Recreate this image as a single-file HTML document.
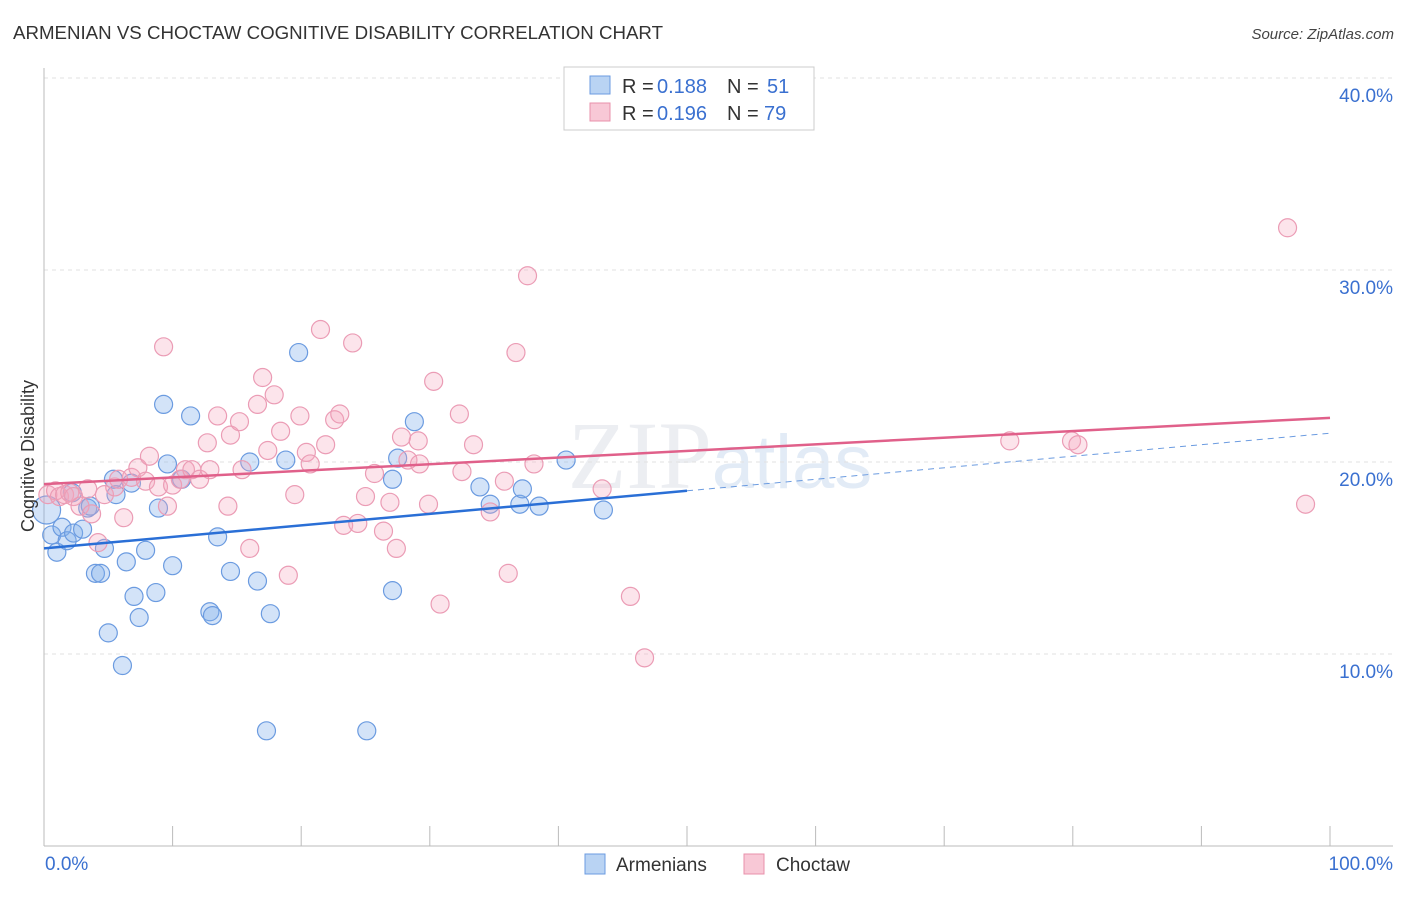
<!DOCTYPE html>
<html><head><meta charset="utf-8"><style>
body{margin:0;background:#fff;font-family:"Liberation Sans",sans-serif;}
</style></head><body>
<svg id="chart" width="1406" height="892" xmlns="http://www.w3.org/2000/svg" font-family="Liberation Sans, sans-serif">
<text x="13" y="39" font-size="18.7" fill="#333">ARMENIAN VS CHOCTAW COGNITIVE DISABILITY CORRELATION CHART</text>
<text x="1394" y="39" font-size="15" fill="#444" text-anchor="end" font-style="italic">Source: ZipAtlas.com</text>
<text x="720" y="488" font-size="96" fill="#eceef2" text-anchor="middle" font-family="Liberation Serif, serif">ZIP<tspan fill="#e2ebf6" font-family="Liberation Sans, sans-serif" font-size="76">atlas</tspan></text>
<g id="grid"></g><g id="axes"></g><g id="marks"></g>
<text transform="translate(34,456) rotate(-90)" font-size="18" fill="#333" text-anchor="middle">Cognitive Disability</text>
<g>
<rect x="564" y="67" width="250" height="63" fill="#fff" stroke="#ccc"/>
<rect x="590" y="76" width="20" height="18" fill="#b9d3f3" stroke="#6b9be0"/>
<text x="622" y="93" font-size="20" fill="#333">R =</text>
<text x="657" y="93" font-size="20" fill="#3a70d0">0.188</text>
<text x="727" y="93" font-size="20" fill="#333">N =</text>
<text x="767" y="93" font-size="20" fill="#3a70d0">51</text>
<rect x="590" y="103" width="20" height="18" fill="#f8c8d6" stroke="#e890ab"/>
<text x="622" y="120" font-size="20" fill="#333">R =</text>
<text x="657" y="120" font-size="20" fill="#3a70d0">0.196</text>
<text x="727" y="120" font-size="20" fill="#333">N =</text>
<text x="764" y="120" font-size="20" fill="#3a70d0">79</text>
</g>
<g>
<rect x="585" y="854" width="20" height="20" fill="#b9d3f3" stroke="#6b9be0"/>
<text x="616" y="871" font-size="19" fill="#333">Armenians</text>
<rect x="744" y="854" width="20" height="20" fill="#f8c8d6" stroke="#e890ab"/>
<text x="776" y="871" font-size="19" fill="#333">Choctaw</text>
</g>
</svg>
<script>
const blueX=[0.6,1.0,1.4,1.8,2.3,2.2,3.0,3.4,3.6,4.0,4.4,4.7,5.0,5.4,5.6,6.1,6.4,6.8,7.0,7.4,7.9,8.7,8.9,9.3,9.6,10.0,10.7,11.4,12.9,13.1,13.5,14.5,16.0,16.6,17.3,17.6,18.8,19.8,25.1,27.1,27.1,27.5,28.8,33.9,34.7,37.0,37.2,38.5,40.6,43.5,0.2];
const blueY=[16.2,15.3,16.6,15.9,16.3,18.4,16.5,17.6,17.7,14.2,14.2,15.5,11.1,19.1,18.3,9.4,14.8,18.9,13.0,11.9,15.4,13.2,17.6,23.0,19.9,14.6,19.1,22.4,12.2,12.0,16.1,14.3,20.0,13.8,6.0,12.1,20.1,25.7,6.0,13.3,19.1,20.2,22.1,18.7,17.8,17.8,18.6,17.7,20.1,17.5,17.5];
const pinkX=[0.3,0.9,1.2,1.6,2.0,2.3,2.8,3.4,3.7,4.2,4.7,5.5,5.8,6.2,6.8,7.3,7.9,8.2,8.9,9.3,9.6,10.0,10.6,11.0,11.5,12.1,12.7,12.9,13.5,14.3,14.5,15.2,15.4,16.0,16.6,17.0,17.4,17.9,18.4,19.0,19.5,19.9,20.4,20.7,21.5,21.9,22.6,23.0,23.3,24.0,24.4,25.0,25.7,26.4,26.9,27.4,27.8,28.3,29.1,29.2,29.9,30.3,30.8,32.3,32.5,33.4,34.7,35.8,36.1,36.7,37.6,38.1,43.4,45.6,46.7,75.1,79.9,80.4,96.7,98.1];
const pinkY=[18.3,18.5,18.2,18.3,18.4,18.2,17.7,18.6,17.3,15.8,18.3,18.7,19.1,17.1,19.2,19.7,19.0,20.3,18.7,26.0,17.7,18.8,19.1,19.6,19.6,19.1,21.0,19.6,22.4,17.7,21.4,22.1,19.6,15.5,23.0,24.4,20.6,23.5,21.6,14.1,18.3,22.4,20.5,19.9,26.9,20.9,22.2,22.5,16.7,26.2,16.8,18.2,19.4,16.4,17.9,15.5,21.3,20.1,21.1,19.9,17.8,24.2,12.6,22.5,19.5,20.9,17.4,19.0,14.2,25.7,29.7,19.9,18.6,13.0,9.8,21.1,21.1,20.9,32.2,17.8];
const blueTrend=[15.5,18.5,21.5];
const pinkTrend=[18.85,22.3];
const yTicks=[10,20,30,40];
const xTickCount=10;
const NS="http://www.w3.org/2000/svg";
const X0=44,X1=1330,Y0=846,PX=19.2;
const sx=v=>X0+(X1-X0)*v/100;
const sy=v=>Y0-v*PX;
function mk(tag,attrs,parent){const e=document.createElementNS(NS,tag);for(const k in attrs)e.setAttribute(k,attrs[k]);parent.appendChild(e);return e;}
const grid=document.getElementById('grid'),axes=document.getElementById('axes'),marks=document.getElementById('marks');
yTicks.forEach(t=>{
  const l=mk('line',{x1:X0,x2:1393,y1:sy(t),y2:sy(t),stroke:'#e2e2e2','stroke-dasharray':'4,4'},grid);
  
  
  const tx=mk('text',{x:1393,y:sy(t)+24,'font-size':19,fill:'#3a70d0','text-anchor':'end'},axes);
  tx.textContent=t.toFixed(1)+'%';
  
  
});
const ya=mk('line',{x1:X0,x2:X0,y1:68,y2:Y0,stroke:'#bbb'},axes);


const xa=mk('line',{x1:X0,x2:1393,y1:Y0,y2:Y0,stroke:'#bbb'},axes);


for(let i=1;i<=xTickCount;i++){
  const tk=mk('line',{x1:sx(i*10),x2:sx(i*10),y1:826,y2:Y0,stroke:'#bbb'},axes);
  
  
}
const xl0=mk('text',{x:45,y:870,'font-size':19,fill:'#3a70d0'},axes);xl0.textContent='0.0%';


const xl1=mk('text',{x:1393,y:870,'font-size':19,fill:'#3a70d0','text-anchor':'end'},axes);xl1.textContent='100.0%';


blueX.forEach((x,i)=>{
  const c=mk('circle',{cx:sx(x),cy:sy(blueY[i]),r:(i===blueX.length-1?14:9),fill:'rgba(130,175,235,0.35)',stroke:'#6b9be0','stroke-width':1.2},marks);
  
  
});
pinkX.forEach((x,i)=>{
  const c=mk('circle',{cx:sx(x),cy:sy(pinkY[i]),r:9,fill:'rgba(245,165,190,0.3)',stroke:'#eb9cb5','stroke-width':1.2},marks);
  
  
});
const bt=mk('line',{x1:sx(0),y1:sy(blueTrend[0]),x2:sx(50),y2:sy(blueTrend[1]),stroke:'#2a6fd6','stroke-width':2.5},marks);


const bd=mk('line',{x1:sx(50),y1:sy(blueTrend[1]),x2:sx(100),y2:sy(blueTrend[2]),stroke:'#6b9be0','stroke-width':1,'stroke-dasharray':'6,5'},marks);


const pt=mk('line',{x1:sx(0),y1:sy(pinkTrend[0]),x2:sx(100),y2:sy(pinkTrend[1]),stroke:'#e0608a','stroke-width':2.5},marks);


</script>
</body></html>
